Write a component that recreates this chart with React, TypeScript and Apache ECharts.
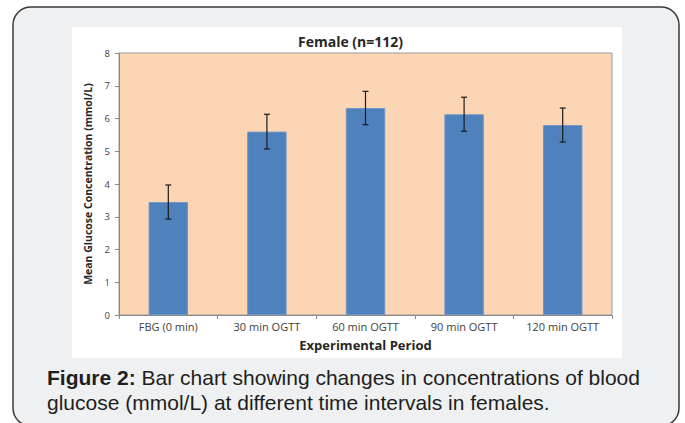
import React, { useEffect, useRef } from "react";
import * as echarts from "echarts";

const categories = ["FBG (0 min)", "30 min OGTT", "60 min OGTT", "90 min OGTT", "120 min OGTT"];
const means = [3.45, 5.6, 6.32, 6.13, 5.8];
const errors = [0.52, 0.53, 0.51, 0.52, 0.52];
const yTicks = [0, 1, 2, 3, 4, 5, 6, 7, 8];
const titleText = "Female (n=112)";
const yName = "Mean Glucose Concentration (mmol/L)";
const xName = "Experimental Period";
const captionBold = "Figure 2:";
const captionLine1 = " Bar chart showing changes in concentrations of blood";
const captionLine2 = "glucose (mmol/L) at different time intervals in females.";

export default function App() {
  const ref = useRef<HTMLDivElement>(null);
  useEffect(() => {
    if (!ref.current) return;
    const chart = echarts.init(ref.current, undefined, { renderer: "svg" });
    const errData = categories.map((_, i) => [i, means[i] - errors[i], means[i] + errors[i]]);
    const font = "'Open Sans', sans-serif";
    const capFont = "'Liberation Sans', Arial, sans-serif";
    chart.setOption({
      animation: false,
      backgroundColor: "#ffffff",
      title: {
        text: titleText,
        left: 293,
        top: 29,
        textStyle: { fontFamily: font, fontWeight: "bold", fontSize: 14, color: "#262626" },
      },
      graphic: [
        {
          type: "rect",
          z: -10,
          shape: { x: 13, y: 7, width: 666, height: 419, r: 18 },
          style: { fill: "#eff0f2", stroke: "#3a3a3a", lineWidth: 1.5 },
        },
        {
          type: "rect",
          z: -9,
          shape: { x: 72, y: 27, width: 550, height: 331 },
          style: { fill: "#ffffff" },
        },
        {
          type: "text",
          z: 10,
          x: 47,
          y: 365,
          style: {
            text: "{b|" + captionBold + "}" + captionLine1 + "\n" + captionLine2,
            fontFamily: capFont,
            fontSize: 21,
            lineHeight: 25,
            fill: "#1e1e1e",
            rich: {
              b: { fontWeight: "bold", fontFamily: capFont, fontSize: 21, lineHeight: 25, fill: "#1e1e1e" },
            },
          },
        },
      ],
      grid: {
        left: 119,
        top: 53,
        width: 493,
        height: 262,
        show: true,
        backgroundColor: "#fcd5b5",
        borderColor: "#9a9a9a",
        borderWidth: 1,
        containLabel: false,
      },
      xAxis: {
        type: "category",
        data: categories,
        boundaryGap: true,
        name: xName,
        nameLocation: "middle",
        nameGap: 23,
        nameTextStyle: { fontFamily: font, fontWeight: "bold", fontSize: 13, color: "#262626" },
        axisLine: { show: true, lineStyle: { color: "#8a8a8a", width: 1 } },
        axisTick: { show: true, alignWithLabel: false, length: 4, lineStyle: { color: "#8a8a8a" } },
        axisLabel: { margin: 6, fontFamily: font, fontSize: 11, color: "#404040", interval: 0 },
        splitLine: { show: false },
      },
      yAxis: {
        type: "value",
        min: yTicks[0],
        max: yTicks[yTicks.length - 1],
        interval: 1,
        name: yName,
        nameLocation: "middle",
        nameGap: 25,
        nameTextStyle: { fontFamily: font, fontWeight: "bold", fontSize: 10.5, color: "#262626" },
        axisLine: { show: true, lineStyle: { color: "#8a8a8a", width: 1 } },
        axisTick: { show: true, length: 4, lineStyle: { color: "#8a8a8a" } },
        axisLabel: { margin: 9, fontFamily: font, fontSize: 9.5, color: "#404040" },
        splitLine: { show: false },
      },
      series: [
        {
          type: "bar",
          data: means,
          barWidth: "40%",
          itemStyle: { color: "#4f81bd", borderColor: "#6f97c9", borderWidth: 1 },
          z: 2,
        },
        {
          type: "custom",
          data: errData,
          encode: { x: 0, y: [1, 2] },
          z: 5,
          renderItem: (params: any, api: any) => {
            const x = api.value(0);
            const lo = api.coord([x, api.value(1)]);
            const hi = api.coord([x, api.value(2)]);
            const cap = 3;
            const style = { stroke: "#1a1a1a", lineWidth: 1.2 };
            return {
              type: "group",
              children: [
                { type: "line", shape: { x1: lo[0], y1: lo[1], x2: hi[0], y2: hi[1] }, style },
                { type: "line", shape: { x1: hi[0] - cap, y1: hi[1], x2: hi[0] + cap, y2: hi[1] }, style },
                { type: "line", shape: { x1: lo[0] - cap, y1: lo[1], x2: lo[0] + cap, y2: lo[1] }, style },
              ],
            };
          },
        },
      ],
    });
    return () => chart.dispose();
  }, []);
  return (
    <div
      ref={ref}
      style={{ position: "fixed", left: 0, top: 0, width: 685, height: 423 }}
    />
  );
}
